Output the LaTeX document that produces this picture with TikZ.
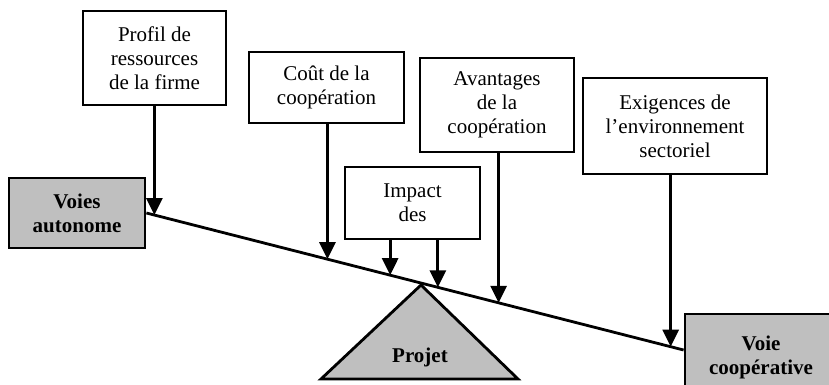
\documentclass[tikz,border=0pt]{standalone}
\usepackage{fontspec}
\setmainfont{Liberation Serif}
\usetikzlibrary{arrows.meta,calc}
\begin{document}
\begin{tikzpicture}[x=1pt,y=-1pt,
  box/.style={draw,line width=2.8pt,rectangle,inner sep=0pt,align=center,
    font=\fontsize{21}{24}\selectfont},
  gbox/.style={box,fill=gray!50!white,font=\fontsize{21}{24}\selectfont\bfseries},
  arr/.style={line width=2.8pt,-{Triangle[width=16pt,length=17pt]}},
  beamline/.style={line width=2.8pt}]
\useasboundingbox (0,0) rectangle (829,384);
\node[box,minimum width=143pt,minimum height=94pt] (profil) at (154.5,58) {Profil de\\ressources\\de la firme};
\node[box,minimum width=155pt,minimum height=71pt] (cout) at (326.5,87.5) {Coût de la\\coopération};
\node[box,minimum width=154pt,minimum height=94pt] (avant) at (497,105) {Avantages\\de la\\coopération};
\node[box,minimum width=184pt,minimum height=96pt] (exig) at (675,126) {Exigences de\\l’environnement\\sectoriel};
\node[box,minimum width=135pt,minimum height=72pt] (impact) at (412.5,203) {Impact\\des};
\node[gbox,minimum width=136pt,minimum height=70pt] (voies) at (77,213) {Voies\\autonome};
\node[gbox,minimum width=152pt,minimum height=86pt] (coop) at (761,357) {Voie\\coopérative};
% triangle
\coordinate (tl) at (321,379);
\coordinate (tr) at (518,379);
\coordinate (tt) at (421,285);
\draw[line width=2.8pt,fill=gray!50!white,line join=miter] (tl) -- (tr) -- (tt) -- cycle;
\node[font=\fontsize{21}{24}\selectfont\bfseries,anchor=base] (projet) at (420,362) {Projet};
% beam
\coordinate (bL) at (voies.east |- 0,213);
\coordinate (bR) at (coop.west |- 0,350);
\draw[beamline] (bL) -- (bR);
% arrows
\coordinate (p1) at ($(bL)!0.0148!(bR)$);
\coordinate (p2) at ($(bL)!0.337!(bR)$);
\coordinate (p3) at ($(bL)!0.4537!(bR)$);
\coordinate (p4) at ($(bL)!0.5426!(bR)$);
\coordinate (p5) at ($(bL)!0.6556!(bR)$);
\coordinate (p6) at ($(bL)!0.9759!(bR)$);
\draw[arr] (profil.south -| p1) -- (p1);
\draw[arr] (cout.south -| p2) -- (p2);
\draw[arr] (impact.south -| p3) -- (p3);
\draw[arr] (impact.south -| p4) -- (p4);
\draw[arr] (avant.south -| p5) -- (p5);
\draw[arr] (exig.south -| p6) -- (p6);
\end{tikzpicture}
\end{document}
